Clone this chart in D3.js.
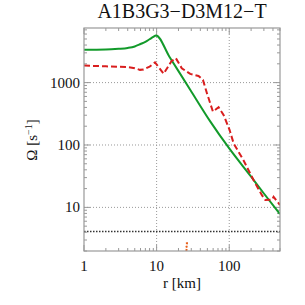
<!DOCTYPE html>
<html><head><meta charset="utf-8">
<script src="https://cdn.jsdelivr.net/npm/d3@7"></script>
<style>body{margin:0;background:#fff}svg{display:block}</style>
</head><body>
<script>
const title = "A1B3G3\u2212D3M12\u2212T";
const xLabel = "r [km]";
const xTicks = [1, 10, 100];
const yTicks = [10, 100, 1000];
const greenR = [1, 2, 3, 4, 5, 6, 7, 8, 9, 9.8, 15, 29, 55, 100, 200, 300, 500];
const greenV = [3350, 3380, 3480, 3600, 3800, 4150, 4500, 4950, 5400, 5700, 2600, 770, 237, 88, 31, 16.7, 7.8];
const redR = [1, 2, 3, 3.9, 5, 5.9, 6.6, 8, 9.5, 12.5, 16, 18.4, 22.2, 29, 37.7, 43.4, 49.3, 59.6, 71.3, 83.5, 101, 115, 157, 216, 282, 314, 388, 408, 500];
const redV = [1875, 1820, 1790, 1780, 1700, 1600, 1620, 1800, 2110, 1390, 2200, 2460, 1700, 1380, 1280, 1105, 676, 343, 403, 303, 175, 106, 57, 27.4, 15.7, 13.1, 13.3, 14.8, 10.9];
const blackLevel = 4.1;
const orangeR = [25.6, 26.2, 25.6, 26.2, 25.8];
const orangeV = [2.0, 2.25, 2.45, 2.65, 2.85];

const W = 305, H = 305;
const m = {l: 84, r: 280, t: 28, b: 251};
const svg = d3.select("body").append("svg").attr("width", W).attr("height", H);
const x = d3.scaleLog().domain([1, 500]).range([m.l, m.r]);
const y = d3.scaleLog().domain([2, 7500]).range([m.b, m.t]);
const serif = "'Liberation Serif','DejaVu Serif',serif";

// grid
const g = svg.append("g");
[10, 100].forEach(v => g.append("line").attr("x1", x(v)).attr("x2", x(v)).attr("y1", m.t).attr("y2", m.b)
  .attr("stroke", "#999").attr("stroke-width", 1).attr("stroke-dasharray", "1,2"));
yTicks.forEach(v => g.append("line").attr("x1", m.l).attr("x2", m.r).attr("y1", y(v)).attr("y2", y(v))
  .attr("stroke", "#999").attr("stroke-width", 1).attr("stroke-dasharray", "1,2"));

// ticks
const xMinor = [], yMinor = [];
for (let d = 1; d <= 100; d *= 10) for (let k = 2; k <= 9; k++) if (k * d <= 500) xMinor.push(k * d);
for (let d = 1; d <= 1000; d *= 10) for (let k = 2; k <= 9; k++) if (k * d >= 2 && k * d <= 7500) yMinor.push(k * d);
const tc = "#999";
function tickX(v, len) {
  g.append("line").attr("x1", x(v)).attr("x2", x(v)).attr("y1", m.b).attr("y2", m.b - len).attr("stroke", tc);
  g.append("line").attr("x1", x(v)).attr("x2", x(v)).attr("y1", m.t).attr("y2", m.t + len).attr("stroke", tc);
}
function tickY(v, len) {
  g.append("line").attr("y1", y(v)).attr("y2", y(v)).attr("x1", m.l).attr("x2", m.l + len).attr("stroke", tc);
  g.append("line").attr("y1", y(v)).attr("y2", y(v)).attr("x1", m.r).attr("x2", m.r - len).attr("stroke", tc);
}
xMinor.forEach(v => tickX(v, 3));
xTicks.forEach(v => tickX(v, 6));
yMinor.forEach(v => tickY(v, 3));
yTicks.forEach(v => tickY(v, 6));

// black dotted level
svg.append("line").attr("x1", m.l).attr("x2", m.r).attr("y1", y(blackLevel)).attr("y2", y(blackLevel))
  .attr("stroke", "#333").attr("stroke-width", 1.5).attr("stroke-dasharray", "1.5,1.5");

const clip = svg.append("clipPath").attr("id", "c").append("rect")
  .attr("x", m.l).attr("y", m.t).attr("width", m.r - m.l).attr("height", m.b - m.t);
const line = d3.line().x(d => x(d[0])).y(d => y(d[1])).curve(d3.curveMonotoneX);
const lineL = d3.line().x(d => x(d[0])).y(d => y(d[1]));

svg.append("path").datum(greenR.map((r, i) => [r, greenV[i]]))
  .attr("d", line).attr("fill", "none").attr("stroke", "#129a2a").attr("stroke-width", 2).attr("clip-path", "url(#c)");
svg.append("path").datum(redR.map((r, i) => [r, redV[i]]))
  .attr("d", lineL).attr("fill", "none").attr("stroke", "#d91e1e").attr("stroke-width", 2)
  .attr("stroke-dasharray", "6,3").attr("clip-path", "url(#c)");
svg.append("path").datum(orangeR.map((r, i) => [r, orangeV[i]]))
  .attr("d", lineL).attr("fill", "none").attr("stroke", "#e8601c").attr("stroke-width", 2)
  .attr("stroke-dasharray", "2,1.5").attr("clip-path", "url(#c)");

// frame
svg.append("rect").attr("x", m.l).attr("y", m.t).attr("width", m.r - m.l).attr("height", m.b - m.t)
  .attr("fill", "none").attr("stroke", "#999").attr("stroke-width", 1.2);

// labels
xTicks.forEach(v => svg.append("text").attr("x", x(v)).attr("y", 271).attr("text-anchor", "middle")
  .attr("font-family", serif).attr("font-size", 15).attr("fill", "#111").text(d3.format("d")(v)));
yTicks.forEach(v => svg.append("text").attr("x", 80).attr("y", y(v) + 5).attr("text-anchor", "end")
  .attr("font-family", serif).attr("font-size", 15).attr("fill", "#111").text(d3.format("d")(v)));
svg.append("text").attr("x", 182).attr("y", 288).attr("text-anchor", "middle")
  .attr("font-family", serif).attr("font-size", 15).attr("fill", "#111").text(xLabel);
const yl = svg.append("text").attr("transform", "translate(37,140) rotate(-90)").attr("text-anchor", "middle")
  .attr("font-family", serif).attr("font-size", 15).attr("fill", "#111");
yl.append("tspan").text("\u03a9 [s");
yl.append("tspan").attr("dy", -5).attr("font-size", 10).text("\u22121");
yl.append("tspan").attr("dy", 5).text("]");
svg.append("text").attr("x", 182).attr("y", 18).attr("text-anchor", "middle")
  .attr("font-family", serif).attr("font-size", 20).attr("fill", "#111").text(title);
</script>
</body></html>
